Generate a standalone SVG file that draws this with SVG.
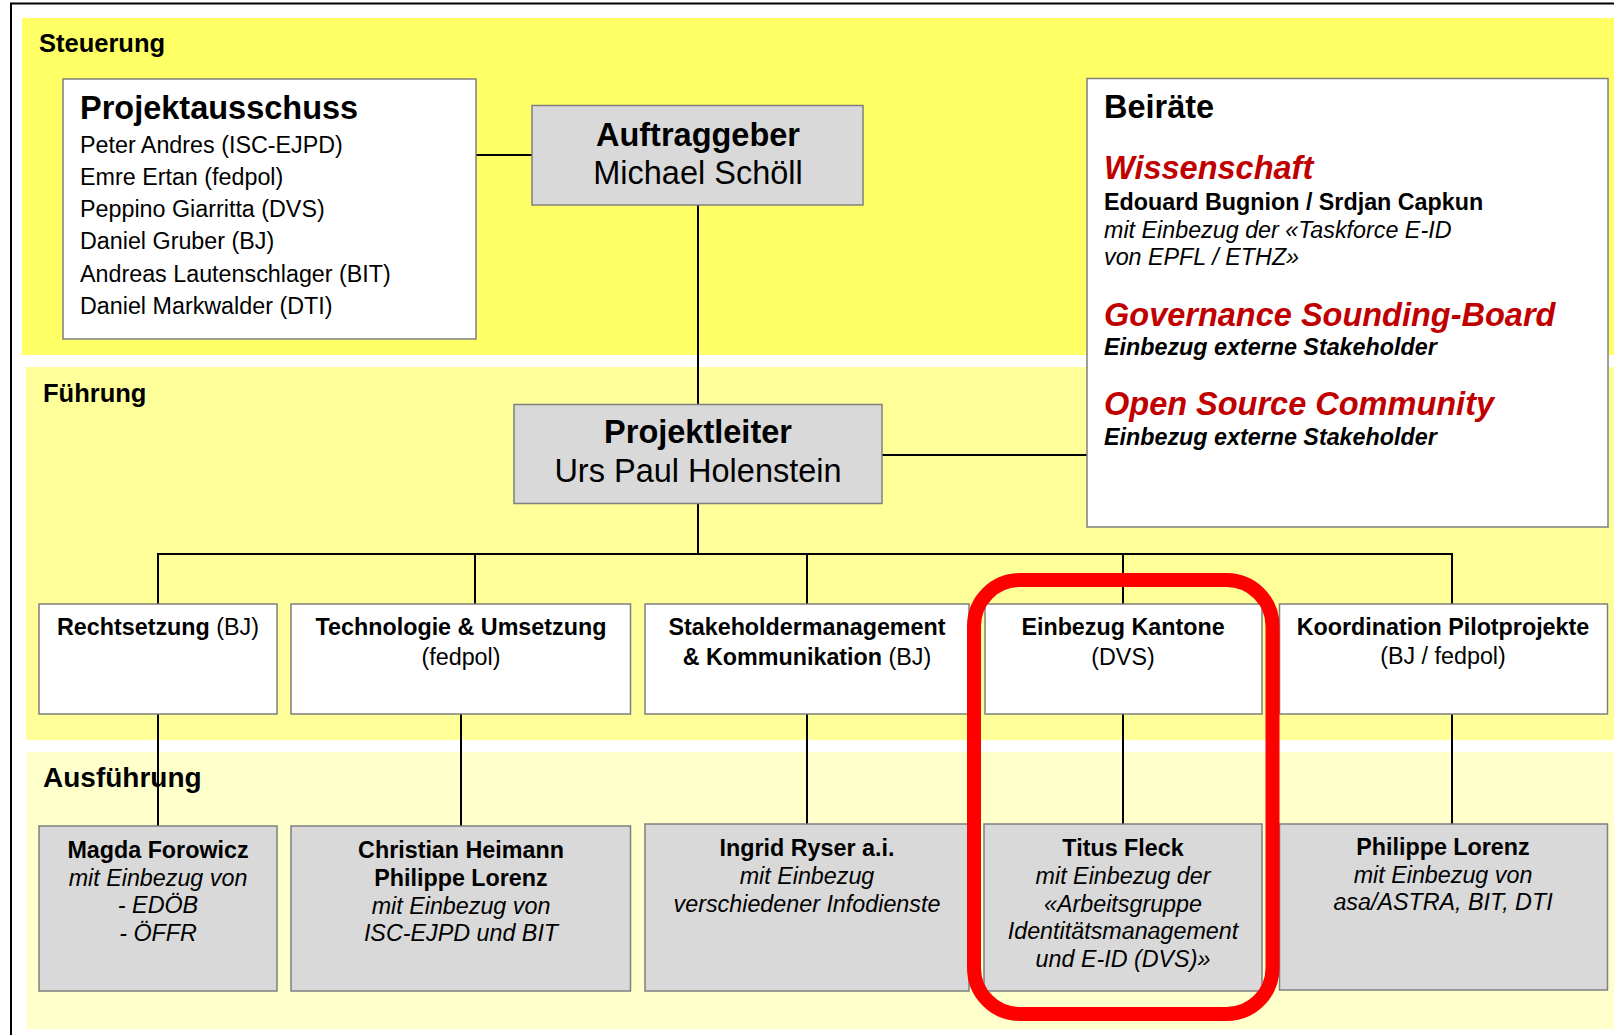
<svg xmlns="http://www.w3.org/2000/svg" width="1614" height="1035" viewBox="0 0 1614 1035">
<style>
text{font-family:"Liberation Sans",Arial,Helvetica,sans-serif;fill:#000}
.band1{fill:#FFFF66}
.band2{fill:#FFFF99}
.band3{fill:#FFFFCC}
.lbl{font-weight:bold;font-size:25.5px}
.wbox{fill:#fff;stroke:#7f7f7f;stroke-width:1.5}
.gbox{fill:#D9D9D9;stroke:#7f7f7f;stroke-width:1.5}
.big{font-size:32.5px;text-anchor:middle}
.b{font-weight:bold}
.i{font-style:italic}
.red{fill:#C00000;font-weight:bold;font-style:italic;font-size:32.5px}
.m{font-size:23.3px;text-anchor:middle}
.s{font-size:23.3px}
.con{stroke:#000;stroke-width:2;fill:none}
</style>
<rect width="1614" height="1035" fill="#fff"/>
<g id="frame"><path d="M11 1035 V3.5 H1614" fill="none" stroke="#000" stroke-width="2"/></g>
<g id="bands">
<rect class="band1" x="22" y="18" width="1600" height="337"/>
<rect class="band2" x="26" y="367" width="1600" height="373"/>
<rect class="band3" x="26" y="752" width="1600" height="277"/>
<text class="lbl" x="39" y="52">Steuerung</text>
<text class="lbl" x="43" y="402">Führung</text>
<text class="lbl" x="43" y="787" style="font-size:28px">Ausführung</text>
</g>
<g id="connectors">
<path class="con" d="M476 155 H532"/>
<path class="con" d="M698 205 V404"/>
<path class="con" d="M882 455 H1087"/>
<path class="con" d="M698 504 V554"/>
<path class="con" d="M157 554 H1453"/>
<path class="con" d="M158 553 V604 M475 553 V604 M807 553 V604 M1123 553 V604 M1452 553 V604"/>
<path class="con" d="M158 714 V826 M461 714 V826 M807 714 V824 M1123 714 V824 M1452 714 V824"/>
</g>
<g id="projektausschuss">
<rect class="wbox" x="63" y="79" width="413" height="260"/>
<text x="80" y="119" class="b" style="font-size:32.5px">Projektausschuss</text>
<text class="s" x="80" y="153">Peter Andres (ISC-EJPD)</text>
<text class="s" x="80" y="185">Emre Ertan (fedpol)</text>
<text class="s" x="80" y="217">Peppino Giarritta (DVS)</text>
<text class="s" x="80" y="249">Daniel Gruber (BJ)</text>
<text class="s" x="80" y="282">Andreas Lautenschlager (BIT)</text>
<text class="s" x="80" y="314">Daniel Markwalder (DTI)</text>
</g>
<g id="auftraggeber">
<rect class="gbox" x="532" y="105.5" width="331" height="99.5"/>
<text class="big b" x="698" y="146">Auftraggeber</text>
<text class="big" x="698" y="184">Michael Schöll</text>
</g>
<g id="projektleiter">
<rect class="gbox" x="514" y="404.5" width="368" height="99"/>
<text class="big b" x="698" y="443">Projektleiter</text>
<text class="big" x="698" y="482">Urs Paul Holenstein</text>
</g>
<g id="beiraete">
<rect class="wbox" x="1087" y="78.5" width="521" height="448.5"/>
<text x="1104" y="118" class="b" style="font-size:32.5px">Beiräte</text>
<text class="red" x="1104" y="179">Wissenschaft</text>
<text class="s b" x="1104" y="210">Edouard Bugnion / Srdjan Capkun</text>
<text class="s i" x="1104" y="238">mit Einbezug der «Taskforce E-ID</text>
<text class="s i" x="1104" y="265">von EPFL / ETHZ»</text>
<text class="red" x="1104" y="326">Governance Sounding-Board</text>
<text class="s b i" x="1104" y="355">Einbezug externe Stakeholder</text>
<text class="red" x="1104" y="415">Open Source Community</text>
<text class="s b i" x="1104" y="445">Einbezug externe Stakeholder</text>
</g>
<g id="rechtsetzung">
<rect class="wbox" x="39" y="604" width="238" height="110"/>
<text class="m" x="158" y="635"><tspan class="b">Rechtsetzung</tspan> (BJ)</text>
</g>
<g id="technologie">
<rect class="wbox" x="291" y="604" width="339.5" height="110"/>
<text class="m b" x="461" y="635">Technologie &amp; Umsetzung</text>
<text class="m" x="461" y="665">(fedpol)</text>
</g>
<g id="stakeholder">
<rect class="wbox" x="645" y="604" width="324" height="110"/>
<text class="m b" x="807" y="635">Stakeholdermanagement</text>
<text class="m" x="807" y="665"><tspan class="b">&amp; Kommunikation</tspan> (BJ)</text>
</g>
<g id="kantone">
<rect class="wbox" x="985" y="604" width="277" height="110"/>
<text class="m b" x="1123" y="635">Einbezug Kantone</text>
<text class="m" x="1123" y="665">(DVS)</text>
</g>
<g id="koordination">
<rect class="wbox" x="1279.5" y="604" width="328" height="110"/>
<text class="m b" x="1443" y="635">Koordination Pilotprojekte</text>
<text class="m" x="1443" y="664">(BJ / fedpol)</text>
</g>
<g id="magda">
<rect class="gbox" x="39" y="826" width="238" height="165"/>
<text class="m b" x="158" y="858">Magda Forowicz</text>
<text class="m i" x="158" y="886">mit Einbezug von</text>
<text class="m i" x="158" y="913">- EDÖB</text>
<text class="m i" x="158" y="941">- ÖFFR</text>
</g>
<g id="christian">
<rect class="gbox" x="291" y="826" width="339.5" height="165"/>
<text class="m b" x="461" y="858">Christian Heimann</text>
<text class="m b" x="461" y="886">Philippe Lorenz</text>
<text class="m i" x="461" y="914">mit Einbezug von</text>
<text class="m i" x="461" y="941">ISC-EJPD und BIT</text>
</g>
<g id="ingrid">
<rect class="gbox" x="645" y="824" width="324" height="167"/>
<text class="m b" x="807" y="856">Ingrid Ryser a.i.</text>
<text class="m i" x="807" y="884">mit Einbezug</text>
<text class="m i" x="807" y="912">verschiedener Infodienste</text>
</g>
<g id="titus">
<rect class="gbox" x="984" y="824" width="278" height="167"/>
<text class="m b" x="1123" y="856">Titus Fleck</text>
<text class="m i" x="1123" y="884">mit Einbezug der</text>
<text class="m i" x="1123" y="912">«Arbeitsgruppe</text>
<text class="m i" x="1123" y="939">Identitätsmanagement</text>
<text class="m i" x="1123" y="967">und E-ID (DVS)»</text>
</g>
<g id="philippe">
<rect class="gbox" x="1279.5" y="824" width="328" height="166"/>
<text class="m b" x="1443" y="855">Philippe Lorenz</text>
<text class="m i" x="1443" y="883">mit Einbezug von</text>
<text class="m i" x="1443" y="910">asa/ASTRA, BIT, DTI</text>
</g>
<g id="highlight">
<rect x="974" y="580" width="298.5" height="434" rx="46" ry="46" fill="none" stroke="#FF0000" stroke-width="14"/>
</g>
</svg>
